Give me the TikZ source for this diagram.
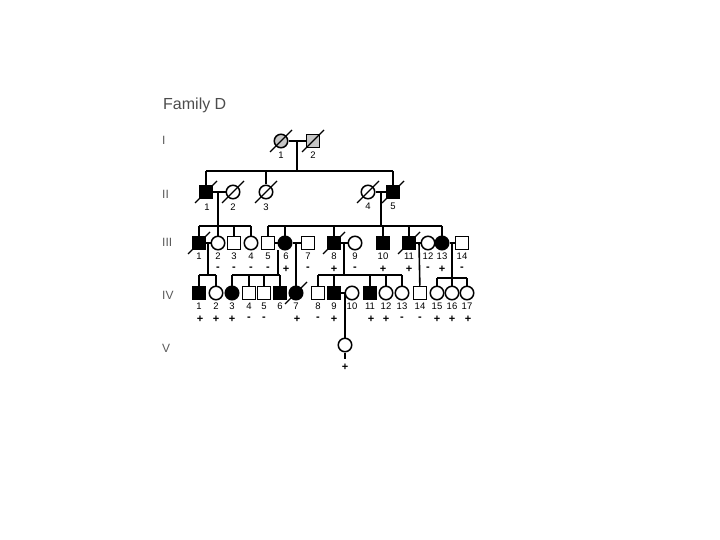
\documentclass[tikz,border=0pt]{standalone}
\usepackage{fontspec}
\setmainfont{Liberation Sans}
\begin{document}
\begin{tikzpicture}[x=1pt,y=-1pt,
  ln/.style={line width=1.6pt},
  thk/.style={line width=2.6pt},
  male/.style={draw,rectangle,minimum size=13pt,inner sep=0pt,line width=1.5pt,fill=white},
  female/.style={draw,circle,minimum size=13.5pt,inner sep=0pt,line width=1.5pt,fill=white},
  aff/.style={fill=black},
  carr/.style={fill=gray!45},
  num/.style={font=\fontsize{9.5}{9.5}\selectfont,inner sep=0pt},
  sgn/.style={font=\fontsize{11}{11}\selectfont\bfseries,inner sep=0pt},
  gen/.style={font=\fontsize{12}{12}\selectfont,text=black!65,inner sep=0pt,anchor=west},
  dslash/.style={line width=1.4pt}]
\useasboundingbox (0,0) rectangle (720,540);
\node[anchor=west,font=\fontsize{16}{16}\selectfont,text=black!70,inner sep=0pt] (title) at (163,105) {Family D};
\node[gen] (gI) at (162,140) {I};
\node[gen] (gII) at (162,194) {II};
\node[gen] (gIII) at (162,242) {III};
\node[gen] (gIV) at (162,295) {IV};
\node[gen] (gV) at (162,348) {V};
% Generation I
\node[female,carr] (I1) at (281,141) {};
\node[male,carr] (I2) at (313,141) {};
% Generation II
\node[male,aff] (II1) at (206,192) {};
\node[female] (II2) at (233,192) {};
\node[female] (II3) at (266,192) {};
\node[female] (II4) at (368,192) {};
\node[male,aff] (II5) at (393,192) {};
% Generation III
\node[male,aff] (III1) at (199,243) {};
\node[female] (III2) at (218,243) {};
\node[male] (III3) at (234,243) {};
\node[female] (III4) at (251,243) {};
\node[male] (III5) at (268,243) {};
\node[female,aff] (III6) at (285,243) {};
\node[male] (III7) at (308,243) {};
\node[male,aff] (III8) at (334,243) {};
\node[female] (III9) at (355,243) {};
\node[male,aff] (III10) at (383,243) {};
\node[male,aff] (III11) at (409,243) {};
\node[female] (III12) at (428,243) {};
\node[female,aff] (III13) at (442,243) {};
\node[male] (III14) at (462,243) {};
% Generation IV
\node[male,aff] (IV1) at (199,293) {};
\node[female] (IV2) at (216,293) {};
\node[female,aff] (IV3) at (232,293) {};
\node[male] (IV4) at (249,293) {};
\node[male] (IV5) at (264,293) {};
\node[male,aff] (IV6) at (280,293) {};
\node[female,aff] (IV7) at (296,293) {};
\node[male] (IV8) at (318,293) {};
\node[male,aff] (IV9) at (334,293) {};
\node[female] (IV10) at (352,293) {};
\node[male,aff] (IV11) at (370,293) {};
\node[female] (IV12) at (386,293) {};
\node[female] (IV13) at (402,293) {};
\node[male] (IV14) at (420,293) {};
\node[female] (IV15) at (437,293) {};
\node[female] (IV16) at (452,293) {};
\node[female] (IV17) at (467,293) {};
% Generation V
\node[female] (V1) at (345,345) {};
% slashes (deceased)
\foreach \n in {I1,I2,II1,II2,II3,II4,II5,III1,III8,III11,IV7}{
  \draw[dslash] ([shift={(-11,11)}]\n.center) -- ([shift={(11,-11)}]\n.center);
}
% coordinates for lines
\coordinate (mI) at (297,141);
\coordinate (sI) at (297,171);
\coordinate (sIL) at (206,171);
\coordinate (sIR) at (393,171);
\coordinate (sI3) at (266,171);
\coordinate (mII1) at (218,192);
\coordinate (sII1) at (218,226);
\coordinate (sII1L) at (199,226);
\coordinate (sII1R) at (251,226);
\coordinate (sII13) at (234,226);
\coordinate (mII4) at (381,192);
\coordinate (sII4) at (381,226);
\coordinate (sII4L) at (268,226);
\coordinate (sII4R) at (442,226);
\coordinate (sII46) at (285,226);
\coordinate (sII48) at (334,226);
\coordinate (sII410) at (383,226);
\coordinate (sII411) at (409,226);
\coordinate (mIII1) at (208,243);
\coordinate (sIII1) at (208,275);
\coordinate (sIII1L) at (199,275);
\coordinate (sIII1R) at (216,275);
\coordinate (mIII5) at (278,250);
\coordinate (sIII5) at (278,275);
\coordinate (sIII5L) at (232,275);
\coordinate (sIII5R) at (280,275);
\coordinate (s4) at (249,275);
\coordinate (s5) at (264,275);
\coordinate (mIII6) at (296,243);
\coordinate (mIII8) at (344,243);
\coordinate (sIII8) at (344,275);
\coordinate (sIII8L) at (318,275);
\coordinate (sIII8R) at (402,275);
\coordinate (s9) at (334,275);
\coordinate (s11) at (370,275);
\coordinate (s12) at (386,275);
\coordinate (mIV9) at (345,293);
\coordinate (endV1) at (345,359);
\coordinate (mIII11) at (419,243);
\coordinate (mIII13) at (452,243);
\coordinate (sIII13) at (452,278);
\coordinate (sIII13L) at (437,278);
\coordinate (sIII13R) at (467,278);
% Gen I lines
\draw[ln] (I1) -- (I2);
\draw[ln] (mI) -- (sI);
\draw[thk] (sIL) -- (sIR);
\draw[ln] (sIL) -- (II1);
\draw[ln] (sI3) -- (II3);
\draw[ln] (sIR) -- (II5);
% Gen II lines
\draw[ln] (II1) -- (II2);
\draw[ln] (mII1) -- (sII1);
\draw[ln] (sII1L) -- (sII1R);
\draw[ln] (sII1L) -- (III1);
\draw[ln] (sII1) -- (III2);
\draw[ln] (sII13) -- (III3);
\draw[ln] (sII1R) -- (III4);
\draw[ln] (II4) -- (II5);
\draw[ln] (mII4) -- (sII4);
\draw[ln] (sII4L) -- (sII4R);
\draw[ln] (sII4L) -- (III5);
\draw[ln] (sII46) -- (III6);
\draw[ln] (sII48) -- (III8);
\draw[ln] (sII410) -- (III10);
\draw[ln] (sII411) -- (III11);
\draw[ln] (sII4R) -- (III13);
% Gen III lines
\draw[ln] (III1) -- (III2);
\draw[ln] (mIII1) -- (sIII1);
\draw[ln] (sIII1L) -- (sIII1R);
\draw[ln] (sIII1L) -- (IV1);
\draw[ln] (sIII1R) -- (IV2);
\draw[ln] (III5) -- (III6);
\draw[ln] (mIII5) -- (sIII5);
\draw[ln] (sIII5L) -- (sIII5R);
\draw[ln] (sIII5L) -- (IV3);
\draw[ln] (s4) -- (IV4);
\draw[ln] (s5) -- (IV5);
\draw[ln] (sIII5R) -- (IV6);
\draw[ln] (III6) -- (III7);
\draw[ln] (mIII6) -- (IV7);
\draw[ln] (III8) -- (III9);
\draw[ln] (mIII8) -- (sIII8);
\draw[ln] (sIII8L) -- (sIII8R);
\draw[ln] (sIII8L) -- (IV8);
\draw[ln] (s9) -- (IV9);
\draw[ln] (s11) -- (IV11);
\draw[ln] (s12) -- (IV12);
\draw[ln] (sIII8R) -- (IV13);
\draw[ln] (III11) -- (III12);
\draw[ln] (mIII11) -- (IV14);
\draw[ln] (III13) -- (III14);
\draw[ln] (mIII13) -- (sIII13);
\draw[thk] (sIII13L) -- (sIII13R);
\draw[ln] (sIII13L) -- (IV15);
\draw[ln] (sIII13) -- (IV16);
\draw[ln] (sIII13R) -- (IV17);
% Gen IV lines
\draw[ln] (IV9) -- (IV10);
\draw[ln] (mIV9) -- (V1);
\draw[ln] (V1) -- (endV1);
% numbers Gen I, II
\node[num] (nI1) at (281,155) {1};
\node[num] (nI2) at (313,155) {2};
\node[num] (nII1) at (207,207) {1};
\node[num] (nII2) at (233,207) {2};
\node[num] (nII3) at (266,207) {3};
\node[num] (nII4) at (368,206) {4};
\node[num] (nII5) at (393,206) {5};
% numbers Gen III
\foreach \n/\x in {1/199,2/218,3/234,4/251,5/268,6/286,7/308,8/334,9/355,10/383,11/409,12/428,13/442,14/462}{
  \node[num] (nIII\n) at (\x,256) {\n};
}
% signs Gen III
\foreach \n/\x/\s in {2/218/-,3/234/-,4/251/-,5/268/-,6/286/+,7/308/-,8/334/+,9/355/-,10/383/+,11/409/+,12/428/-,13/442/+,14/462/-}{
  \node[sgn] (sIII\n) at (\x,269) {\s};
}
% numbers Gen IV
\foreach \n/\x in {1/199,2/216,3/232,4/249,5/264,6/280,7/296,8/318,9/334,10/352,11/370,12/386,13/402,14/420,15/437,16/452,17/467}{
  \node[num] (nIV\n) at (\x,306) {\n};
}
% signs Gen IV
\foreach \n/\x/\s in {1/200/+,2/216/+,3/232/+,4/249/-,5/264/-,7/297/+,8/318/-,9/334/+,11/371/+,12/386/+,13/402/-,14/420/-,15/437/+,16/452/+,17/468/+}{
  \node[sgn] (sIV\n) at (\x,319) {\s};
}
\node[sgn] (sV1) at (345,367) {+};
\end{tikzpicture}
\end{document}
